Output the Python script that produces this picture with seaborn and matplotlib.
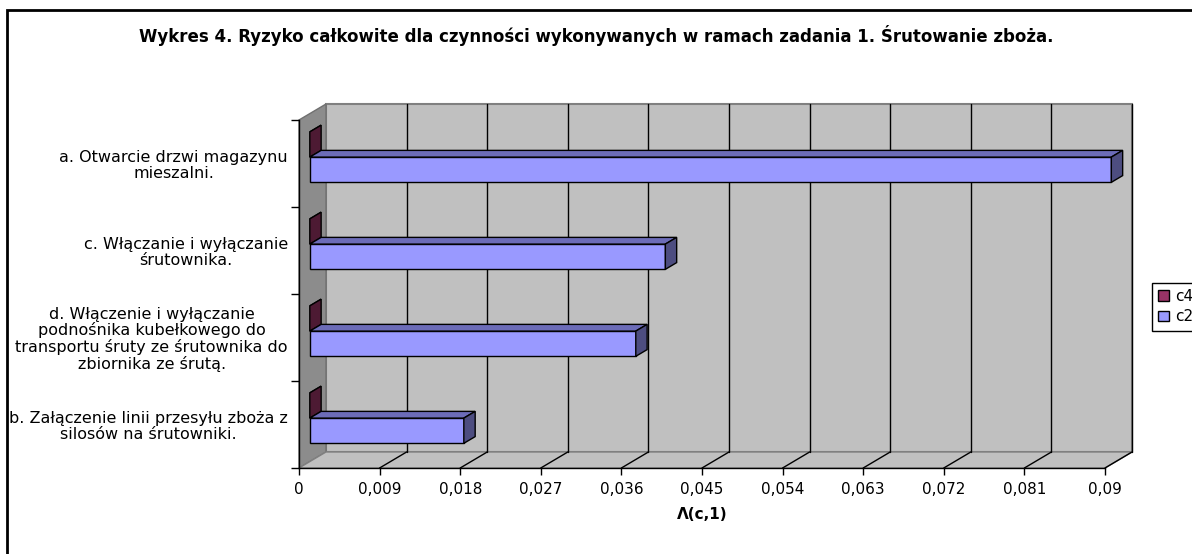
import pandas as pd
import seaborn as sns
import matplotlib.pyplot as plt
from matplotlib.patches import Polygon, Rectangle
from matplotlib.transforms import Affine2D, IdentityTransform

# Data
categories = ['a. Otwarcie drzwi magazynu\nmieszalni.',
              'c. Włączanie i wyłączanie\nśrutownika.',
              'd. Włączenie i wyłączanie\npodnośnika kubełkowego do\ntransportu śruty ze śrutownika do\nzbiornika ze śrutą.',
              'b. Załączenie linii przesyłu zboża z\nsilosów na śrutowniki.']
series = ['c4', 'c2']
c4_values = [0.0, 0.0, 0.0, 0.0]
c2_values = [0.0895, 0.0397, 0.0364, 0.0172]
x_ticks = [0, 0.009, 0.018, 0.027, 0.036, 0.045, 0.054, 0.063, 0.072, 0.081, 0.09]
x_tick_labels = ['0', '0,009', '0,018', '0,027', '0,036', '0,045', '0,054', '0,063', '0,072', '0,081', '0,09']
title = 'Wykres 4. Ryzyko całkowite dla czynności wykonywanych w ramach zadania 1. Śrutowanie zboża.'
x_label = 'Λ(c,1)'

colors = {'c4': '#993366', 'c2': '#9999FF'}
tops = {'c4': '#6E2449', 'c2': '#6C6CB8'}
sides = {'c4': '#4D1A33', 'c2': '#4D4D80'}

df = pd.DataFrame({
    'category': categories * 2,
    'series': ['c4'] * len(categories) + ['c2'] * len(categories),
    'value': c4_values + c2_values,
})

sns.set_style('white', {'text.color': 'black', 'axes.labelcolor': 'black',
                        'xtick.color': 'black', 'ytick.color': 'black'})
plt.rcParams['font.family'] = ['DejaVu Sans']

W, H = 1192, 554
fig = plt.figure(figsize=(W / 100, H / 100), dpi=100)
ax = fig.add_axes([299 / W, (H - 468) / H, (1105 - 299) / W, (468 - 120) / H])

sns.barplot(data=df, y='category', x='value', hue='series', hue_order=series,
            palette=colors, saturation=1, width=0.58, orient='h',
            edgecolor='black', linewidth=1, ax=ax)
ax.set_xlim(0, 0.09)
ax.set_ylim(len(categories) - 0.5, -0.5)
ax.patch.set_visible(False)

# depth of the 3D box (pixels)
DX, DY = 27, 16
f0, f1 = 0.4, 0.82

def px(x, y):
    return ax.transData.transform((x, y))

# back wall, left wall, floor
bl = px(0, len(categories) - 0.5)
tl = px(0, -0.5)
br = px(0.09, len(categories) - 0.5)
tr = px(0.09, -0.5)
wall = Polygon([(bl[0] + DX, bl[1] + DY), (br[0] + DX, br[1] + DY),
                (tr[0] + DX, tr[1] + DY), (tl[0] + DX, tl[1] + DY)],
               closed=True, facecolor='#C0C0C0', edgecolor='#808080', linewidth=1.5,
               transform=IdentityTransform(), clip_on=False, zorder=0.1)
ax.add_patch(wall)
left = Polygon([bl, tl, (tl[0] + DX, tl[1] + DY), (bl[0] + DX, bl[1] + DY)],
               closed=True, facecolor='#8C8C8C', edgecolor='#707070', linewidth=1,
               transform=IdentityTransform(), clip_on=False, zorder=0.2)
ax.add_patch(left)
floor = Polygon([bl, br, (br[0] + DX, br[1] + DY), (bl[0] + DX, bl[1] + DY)],
                closed=True, facecolor='#C0C0C0', edgecolor='#808080', linewidth=1,
                transform=IdentityTransform(), clip_on=False, zorder=0.2)
ax.add_patch(floor)
for xv in x_ticks[1:]:
    b = px(xv, len(categories) - 0.5)
    t = px(xv, -0.5)
    ax.plot([b[0] + DX, t[0] + DX], [b[1] + DY, t[1] + DY], color='black', lw=1,
            transform=IdentityTransform(), clip_on=False, zorder=0.3)
    ax.plot([b[0], b[0] + DX], [b[1], b[1] + DY], color='black', lw=1,
            transform=IdentityTransform(), clip_on=False, zorder=0.3)

# 3D faces for the bars
for i, container in enumerate(ax.containers):
    name = series[i]
    for p in container.patches:
        x0, y0, w, h = p.get_x(), p.get_y(), p.get_width(), p.get_height()
        a = px(x0, y0)
        b = px(x0 + w, y0 + h)
        xl, xr = min(a[0], b[0]), max(a[0], b[0])
        bot, top = min(a[1], b[1]), max(a[1], b[1])
        ox0, oy0 = DX * f0, DY * f0
        ox1, oy1 = DX * f1, DY * f1
        p.set_transform(ax.transData + Affine2D().translate(ox0, oy0))
        p.set_clip_on(False)
        p.set_zorder(2)
        topface = Polygon([(xl + ox0, top + oy0), (xr + ox0, top + oy0),
                           (xr + ox1, top + oy1), (xl + ox1, top + oy1)],
                          closed=True, facecolor=tops[name], edgecolor='black', linewidth=1,
                          transform=IdentityTransform(), clip_on=False, zorder=2)
        sideface = Polygon([(xr + ox0, bot + oy0), (xr + ox0, top + oy0),
                            (xr + ox1, top + oy1), (xr + ox1, bot + oy1)],
                           closed=True, facecolor=sides[name], edgecolor='black', linewidth=1,
                           transform=IdentityTransform(), clip_on=False, zorder=2)
        ax.add_patch(topface)
        ax.add_patch(sideface)

# axes, ticks and labels
sns.despine(ax=ax, top=True, right=True)
for s in ['left', 'bottom']:
    ax.spines[s].set_color('black')
    ax.spines[s].set_linewidth(1)
    ax.spines[s].set_zorder(3)
ax.set_xticks(x_ticks)
ax.set_xticklabels(x_tick_labels, fontsize=11, color='black')
ax.tick_params(axis='x', direction='out', length=5, width=1, color='black', pad=5, bottom=True)
ax.set_yticks(range(len(categories)))
ax.set_yticklabels(categories, fontsize=11.5, multialignment='center', linespacing=1.05,
                   color='black')
ax.set_yticks([k - 0.5 for k in range(len(categories) + 1)], minor=True)
ax.tick_params(axis='y', which='major', length=0, pad=8)
ax.tick_params(axis='y', which='minor', length=6, width=1, color='black', left=True)
ax.set_ylabel('')
ax.set_xlabel(x_label, fontsize=11, fontweight='bold', labelpad=7, color='black')

sns.move_legend(ax, 'upper left', bbox_to_anchor=(1152 / W, (H - 283) / H),
                bbox_transform=fig.transFigure, title=None, frameon=True, fancybox=False,
                edgecolor='black', fontsize=11, handlelength=0.7, handleheight=0.7,
                borderaxespad=0, handletextpad=0.4, framealpha=1, labelspacing=0.35,
                labelcolor='black')
ax.get_legend().get_frame().set_linewidth(1)

fig.text(0.5, 1 - 35 / H, title, ha='center', va='center', fontsize=12, fontweight='bold',
         color='black')

# outer chart frame (cut off at the right and bottom)
fig.add_artist(Rectangle((7.5 / W, -0.5), 1.0, 1.5 - 10 / H, transform=fig.transFigure,
                         facecolor='none', edgecolor='black', linewidth=2))

fig.savefig('out.png', dpi=100)
